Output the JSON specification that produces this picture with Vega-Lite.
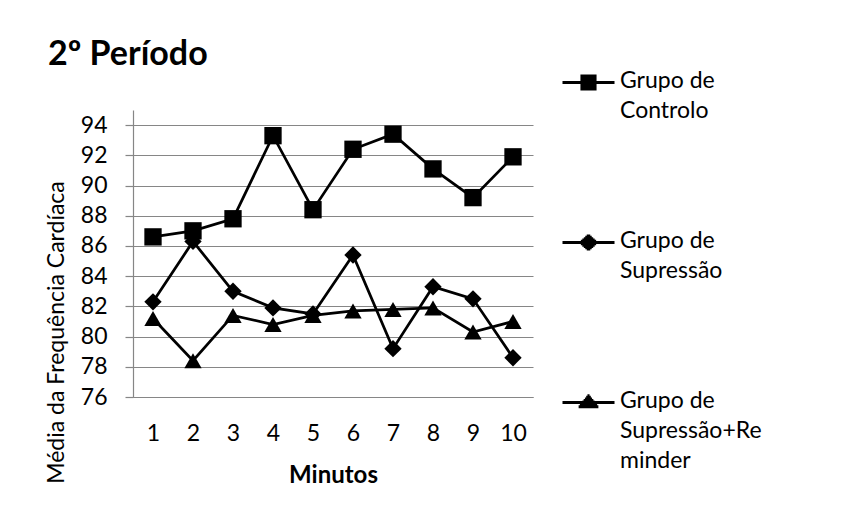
{
  "$schema": "https://vega.github.io/schema/vega-lite/v6.json",
  "autosize": {"type": "none"},
  "width": 400,
  "height": 287,
  "padding": {"left": 133, "top": 110, "right": 333, "bottom": 119},
  "background": "white",
  "config": {
    "view": {"stroke": null},
    "font": "Lato",
    "style": {"guide-label": {"lineHeight": 30}},
    "axis": {
      "gridColor": "#868686",
      "gridWidth": 1.2,
      "domainColor": "#868686",
      "domainWidth": 1.2,
      "tickColor": "#868686",
      "tickWidth": 1.2,
      "labelFont": "Lato",
      "titleFont": "Lato",
      "labelColor": "black",
      "titleColor": "black",
      "labelFontSize": 23,
      "titleFontSize": 23
    }
  },
  "title": {
    "text": "2º Período",
    "anchor": "start",
    "frame": "group",
    "baseline": "alphabetic",
    "offset": 45,
    "dx": -85,
    "dy": 84,
    "fontSize": 34,
    "fontWeight": "bold",
    "font": "Lato",
    "color": "black"
  },
  "data": {
    "values": [
      {"minuto": 1, "grupo": "Grupo de Controlo", "media": 86.6},
      {"minuto": 2, "grupo": "Grupo de Controlo", "media": 87.0},
      {"minuto": 3, "grupo": "Grupo de Controlo", "media": 87.8},
      {"minuto": 4, "grupo": "Grupo de Controlo", "media": 93.3},
      {"minuto": 5, "grupo": "Grupo de Controlo", "media": 88.4},
      {"minuto": 6, "grupo": "Grupo de Controlo", "media": 92.4},
      {"minuto": 7, "grupo": "Grupo de Controlo", "media": 93.4},
      {"minuto": 8, "grupo": "Grupo de Controlo", "media": 91.1},
      {"minuto": 9, "grupo": "Grupo de Controlo", "media": 89.2},
      {"minuto": 10, "grupo": "Grupo de Controlo", "media": 91.9},
      {"minuto": 1, "grupo": "Grupo de Supressão", "media": 82.3},
      {"minuto": 2, "grupo": "Grupo de Supressão", "media": 86.3},
      {"minuto": 3, "grupo": "Grupo de Supressão", "media": 83.0},
      {"minuto": 4, "grupo": "Grupo de Supressão", "media": 81.9},
      {"minuto": 5, "grupo": "Grupo de Supressão", "media": 81.5},
      {"minuto": 6, "grupo": "Grupo de Supressão", "media": 85.4},
      {"minuto": 7, "grupo": "Grupo de Supressão", "media": 79.2},
      {"minuto": 8, "grupo": "Grupo de Supressão", "media": 83.3},
      {"minuto": 9, "grupo": "Grupo de Supressão", "media": 82.5},
      {"minuto": 10, "grupo": "Grupo de Supressão", "media": 78.6},
      {"minuto": 1, "grupo": "Grupo de Supressão+Reminder", "media": 81.2},
      {"minuto": 2, "grupo": "Grupo de Supressão+Reminder", "media": 78.4},
      {"minuto": 3, "grupo": "Grupo de Supressão+Reminder", "media": 81.4},
      {"minuto": 4, "grupo": "Grupo de Supressão+Reminder", "media": 80.8},
      {"minuto": 5, "grupo": "Grupo de Supressão+Reminder", "media": 81.4},
      {"minuto": 6, "grupo": "Grupo de Supressão+Reminder", "media": 81.7},
      {"minuto": 7, "grupo": "Grupo de Supressão+Reminder", "media": 81.8},
      {"minuto": 8, "grupo": "Grupo de Supressão+Reminder", "media": 81.9},
      {"minuto": 9, "grupo": "Grupo de Supressão+Reminder", "media": 80.3},
      {"minuto": 10, "grupo": "Grupo de Supressão+Reminder", "media": 81.0}
    ]
  },
  "encoding": {
    "x": {
      "field": "minuto",
      "type": "ordinal",
      "scale": {"type": "point", "padding": 0.5},
      "axis": {
        "title": "Minutos",
        "titleFontWeight": "bold",
        "titleFontSize": 24,
        "titleBaseline": "alphabetic",
        "titleY": 85,
        "labelAngle": 0,
        "ticks": false,
        "tickSize": 0,
        "labelPadding": 25,
        "grid": false,
        "domain": true
      }
    },
    "y": {
      "field": "media",
      "type": "quantitative",
      "scale": {"domain": [76, 95], "nice": false, "zero": false},
      "axis": {
        "title": "Média da Frequência Cardíaca",
        "titleFontWeight": "normal",
        "titleBaseline": "alphabetic",
        "titleX": -70,
        "titleY": 222,
        "values": [76, 78, 80, 82, 84, 86, 88, 90, 92, 94],
        "tickSize": 8,
        "labelPadding": 18,
        "grid": true
      }
    }
  },
  "layer": [
    {
      "mark": {"type": "line", "color": "black", "strokeWidth": 2.75},
      "encoding": {"detail": {"field": "grupo", "type": "nominal"}}
    },
    {
      "mark": {"type": "point", "filled": true, "color": "black", "opacity": 1, "size": 300},
      "encoding": {
        "shape": {
          "field": "grupo",
          "type": "nominal",
          "scale": {
            "domain": ["Grupo de Controlo", "Grupo de Supressão", "Grupo de Supressão+Reminder"],
            "range": ["square", "diamond", "triangle-up"]
          },
          "legend": null
        }
      }
    },
    {
      "transform": [{"filter": "false"}],
      "mark": {"type": "point", "filled": false, "color": "black", "strokeWidth": 3},
      "encoding": {
        "shape": {
          "field": "grupo",
          "type": "nominal",
          "scale": {
            "domain": ["Grupo de Controlo", "Grupo de Supressão", "Grupo de Supressão+Reminder"],
            "range": [
              "M-1,-0.19H1M-0.31,-0.44H0.31M-0.31,-0.34H0.31M-0.31,-0.24H0.31M-0.31,-0.14H0.31M-0.31,-0.04H0.31M-0.31,0.06H0.31",
              "M-1,-0.19H1M-0.068,-0.44H0.068M-0.124,-0.39H0.124M-0.18,-0.34H0.18M-0.237,-0.29H0.237M-0.294,-0.24H0.294M-0.294,-0.14H0.294M-0.237,-0.09H0.237M-0.18,-0.04H0.18M-0.124,0.01H0.124M-0.068,0.06H0.068",
              "M-1,-0.19H1M-0.041,-0.45H0.041M-0.089,-0.39H0.089M-0.137,-0.33H0.137M-0.186,-0.27H0.186M-0.235,-0.21H0.235M-0.284,-0.15H0.284M-0.332,-0.09H0.332M-0.38,-0.03H0.38"
            ]
          },
          "legend": {
            "title": null,
            "orient": "none",
            "legendX": 428,
            "legendY": -50,
            "symbolSize": 2704,
            "symbolStrokeWidth": 3,
            "symbolStrokeColor": "black",
            "symbolOpacity": 1,
            "labelFont": "Lato",
            "labelFontSize": 23,
            "labelColor": "black",
            "labelBaseline": "alphabetic",
            "labelLimit": 300,
            "labelOffset": 4,
            "rowPadding": 97,
            "labelExpr": "datum.label == 'Grupo de Controlo' ? ['Grupo de', 'Controlo'] : datum.label == 'Grupo de Supressão' ? ['Grupo de', 'Supressão'] : ['Grupo de', 'Supressão+Re', 'minder']"
          }
        }
      }
    }
  ],
  "resolve": {"scale": {"shape": "independent"}}
}
